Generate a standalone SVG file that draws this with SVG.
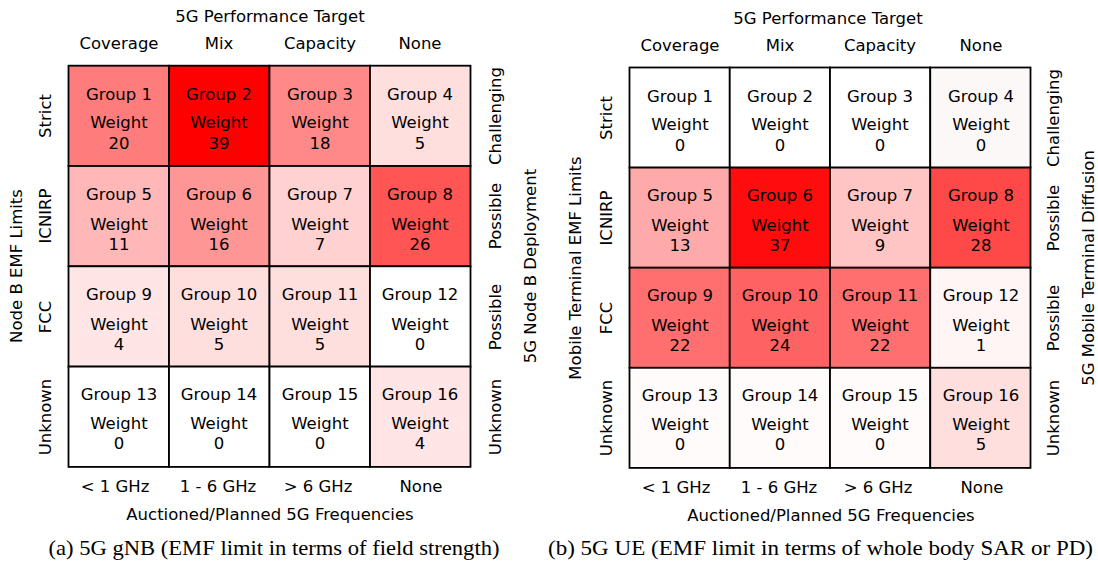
<svg xmlns="http://www.w3.org/2000/svg" width="1098" height="563" viewBox="0 0 1098 563">
<style>
text{font-family:"DejaVu Sans",sans-serif;font-size:16.5px;fill:#000;text-anchor:middle}
.cap{font-family:"Liberation Serif","Times New Roman",serif;font-size:21.5px}
.cell rect{stroke:#000;stroke-width:1.8}
</style>
<rect width="1098" height="563" fill="#fff"/>
<!-- Left chart -->
<g id="chart-a">
<text x="270" y="22">5G Performance Target</text>
<text x="119" y="49">Coverage</text>
<text x="219" y="49">Mix</text>
<text x="320" y="49">Capacity</text>
<text x="420" y="49">None</text>
<text x="115" y="492">&lt; 1 GHz</text>
<text x="218" y="492">1 - 6 GHz</text>
<text x="318" y="492">&gt; 6 GHz</text>
<text x="421" y="492">None</text>
<text x="270" y="520">Auctioned/Planned 5G Frequencies</text>
<text transform="translate(51,116) rotate(-90)">Strict</text>
<text transform="translate(51,216) rotate(-90)">ICNIRP</text>
<text transform="translate(51,317) rotate(-90)">FCC</text>
<text transform="translate(51,417) rotate(-90)">Unknown</text>
<text transform="translate(22,266) rotate(-90)">Node B EMF Limits</text>
<text transform="translate(501,116) rotate(-90)">Challenging</text>
<text transform="translate(501,216) rotate(-90)">Possible</text>
<text transform="translate(501,317) rotate(-90)">Possible</text>
<text transform="translate(501,417) rotate(-90)">Unknown</text>
<text transform="translate(536,266) rotate(-90)">5G Node B Deployment</text>
<text class="cap" x="274" y="555" textLength="451" lengthAdjust="spacingAndGlyphs">(a) 5G gNB (EMF limit in terms of field strength)</text>
</g>
<g id="a-g1" class="cell"><rect x="68.5" y="65.7" width="100.5" height="100.3" fill="#ff7c7c"/><text x="119" y="99.5">Group 1</text><text x="119" y="128">Weight</text><text x="119" y="148.5">20</text></g>
<g id="a-g2" class="cell"><rect x="169" y="65.7" width="100.5" height="100.3" fill="#ff0000"/><text x="219" y="99.5">Group 2</text><text x="219" y="128">Weight</text><text x="219" y="148.5">39</text></g>
<g id="a-g3" class="cell"><rect x="269.5" y="65.7" width="100.5" height="100.3" fill="#ff8989"/><text x="320" y="99.5">Group 3</text><text x="320" y="128">Weight</text><text x="320" y="148.5">18</text></g>
<g id="a-g4" class="cell"><rect x="370" y="65.7" width="100.5" height="100.3" fill="#ffdede"/><text x="420" y="99.5">Group 4</text><text x="420" y="128">Weight</text><text x="420" y="148.5">5</text></g>
<g id="a-g5" class="cell"><rect x="68.5" y="166" width="100.5" height="100.3" fill="#ffb7b7"/><text x="119" y="199.5">Group 5</text><text x="119" y="230">Weight</text><text x="119" y="250">11</text></g>
<g id="a-g6" class="cell"><rect x="169" y="166" width="100.5" height="100.3" fill="#ff9696"/><text x="219" y="199.5">Group 6</text><text x="219" y="230">Weight</text><text x="219" y="250">16</text></g>
<g id="a-g7" class="cell"><rect x="269.5" y="166" width="100.5" height="100.3" fill="#ffd1d1"/><text x="320" y="199.5">Group 7</text><text x="320" y="230">Weight</text><text x="320" y="250">7</text></g>
<g id="a-g8" class="cell"><rect x="370" y="166" width="100.5" height="100.3" fill="#ff5555"/><text x="420" y="199.5">Group 8</text><text x="420" y="230">Weight</text><text x="420" y="250">26</text></g>
<g id="a-g9" class="cell"><rect x="68.5" y="266.3" width="100.5" height="100.3" fill="#ffe5e5"/><text x="119" y="300">Group 9</text><text x="119" y="330">Weight</text><text x="119" y="350">4</text></g>
<g id="a-g10" class="cell"><rect x="169" y="266.3" width="100.5" height="100.3" fill="#ffdede"/><text x="219" y="300">Group 10</text><text x="219" y="330">Weight</text><text x="219" y="350">5</text></g>
<g id="a-g11" class="cell"><rect x="269.5" y="266.3" width="100.5" height="100.3" fill="#ffdede"/><text x="320" y="300">Group 11</text><text x="320" y="330">Weight</text><text x="320" y="350">5</text></g>
<g id="a-g12" class="cell"><rect x="370" y="266.3" width="100.5" height="100.3" fill="#ffffff"/><text x="420" y="300">Group 12</text><text x="420" y="330">Weight</text><text x="420" y="350">0</text></g>
<g id="a-g13" class="cell"><rect x="68.5" y="366.6" width="100.5" height="100.3" fill="#ffffff"/><text x="119" y="400">Group 13</text><text x="119" y="429">Weight</text><text x="119" y="449">0</text></g>
<g id="a-g14" class="cell"><rect x="169" y="366.6" width="100.5" height="100.3" fill="#ffffff"/><text x="219" y="400">Group 14</text><text x="219" y="429">Weight</text><text x="219" y="449">0</text></g>
<g id="a-g15" class="cell"><rect x="269.5" y="366.6" width="100.5" height="100.3" fill="#ffffff"/><text x="320" y="400">Group 15</text><text x="320" y="429">Weight</text><text x="320" y="449">0</text></g>
<g id="a-g16" class="cell"><rect x="370" y="366.6" width="100.5" height="100.3" fill="#ffe5e5"/><text x="420" y="400">Group 16</text><text x="420" y="429">Weight</text><text x="420" y="449">4</text></g>
<!-- Right chart -->
<g id="chart-b">
<text x="828" y="24">5G Performance Target</text>
<text x="680" y="51">Coverage</text>
<text x="780" y="51">Mix</text>
<text x="880" y="51">Capacity</text>
<text x="981" y="51">None</text>
<text x="676" y="493">&lt; 1 GHz</text>
<text x="779" y="493">1 - 6 GHz</text>
<text x="878" y="493">&gt; 6 GHz</text>
<text x="982" y="493">None</text>
<text x="831" y="521">Auctioned/Planned 5G Frequencies</text>
<text transform="translate(612,118) rotate(-90)">Strict</text>
<text transform="translate(612,218) rotate(-90)">ICNIRP</text>
<text transform="translate(612,318) rotate(-90)">FCC</text>
<text transform="translate(612,418) rotate(-90)">Unknown</text>
<text transform="translate(581,268) rotate(-90)">Mobile Terminal EMF Limits</text>
<text transform="translate(1059,118) rotate(-90)">Challenging</text>
<text transform="translate(1059,218) rotate(-90)">Possible</text>
<text transform="translate(1059,318) rotate(-90)">Possible</text>
<text transform="translate(1059,418) rotate(-90)">Unknown</text>
<text transform="translate(1094,268) rotate(-90)">5G Mobile Terminal Diffusion</text>
<text class="cap" x="820.5" y="555" textLength="545" lengthAdjust="spacingAndGlyphs">(b) 5G UE (EMF limit in terms of whole body SAR or PD)</text>
</g>
<g id="b-g1" class="cell"><rect x="629.5" y="67.5" width="100.25" height="100.1" fill="#ffffff"/><text x="680" y="101.5">Group 1</text><text x="680" y="130">Weight</text><text x="680" y="150.5">0</text></g>
<g id="b-g2" class="cell"><rect x="729.75" y="67.5" width="100.25" height="100.1" fill="#ffffff"/><text x="780" y="101.5">Group 2</text><text x="780" y="130">Weight</text><text x="780" y="150.5">0</text></g>
<g id="b-g3" class="cell"><rect x="830" y="67.5" width="100.25" height="100.1" fill="#ffffff"/><text x="880" y="101.5">Group 3</text><text x="880" y="130">Weight</text><text x="880" y="150.5">0</text></g>
<g id="b-g4" class="cell"><rect x="930.25" y="67.5" width="100.25" height="100.1" fill="#fdf8f8"/><text x="981" y="101.5">Group 4</text><text x="981" y="130">Weight</text><text x="981" y="150.5">0</text></g>
<g id="b-g5" class="cell"><rect x="629.5" y="167.6" width="100.25" height="100.1" fill="#ffaaaa"/><text x="680" y="201">Group 5</text><text x="680" y="231">Weight</text><text x="680" y="251">13</text></g>
<g id="b-g6" class="cell"><rect x="729.75" y="167.6" width="100.25" height="100.1" fill="#ff0d0d"/><text x="780" y="201">Group 6</text><text x="780" y="231">Weight</text><text x="780" y="251">37</text></g>
<g id="b-g7" class="cell"><rect x="830" y="167.6" width="100.25" height="100.1" fill="#ffc4c4"/><text x="880" y="201">Group 7</text><text x="880" y="231">Weight</text><text x="880" y="251">9</text></g>
<g id="b-g8" class="cell"><rect x="930.25" y="167.6" width="100.25" height="100.1" fill="#ff4848"/><text x="981" y="201">Group 8</text><text x="981" y="231">Weight</text><text x="981" y="251">28</text></g>
<g id="b-g9" class="cell"><rect x="629.5" y="267.7" width="100.25" height="100.1" fill="#ff6f6f"/><text x="680" y="301">Group 9</text><text x="680" y="331">Weight</text><text x="680" y="351">22</text></g>
<g id="b-g10" class="cell"><rect x="729.75" y="267.7" width="100.25" height="100.1" fill="#ff6262"/><text x="780" y="301">Group 10</text><text x="780" y="331">Weight</text><text x="780" y="351">24</text></g>
<g id="b-g11" class="cell"><rect x="830" y="267.7" width="100.25" height="100.1" fill="#ff6f6f"/><text x="880" y="301">Group 11</text><text x="880" y="331">Weight</text><text x="880" y="351">22</text></g>
<g id="b-g12" class="cell"><rect x="930.25" y="267.7" width="100.25" height="100.1" fill="#fff5f5"/><text x="981" y="301">Group 12</text><text x="981" y="331">Weight</text><text x="981" y="351">1</text></g>
<g id="b-g13" class="cell"><rect x="629.5" y="367.8" width="100.25" height="100.1" fill="#fffbfb"/><text x="680" y="401">Group 13</text><text x="680" y="430">Weight</text><text x="680" y="450">0</text></g>
<g id="b-g14" class="cell"><rect x="729.75" y="367.8" width="100.25" height="100.1" fill="#fffbfb"/><text x="780" y="401">Group 14</text><text x="780" y="430">Weight</text><text x="780" y="450">0</text></g>
<g id="b-g15" class="cell"><rect x="830" y="367.8" width="100.25" height="100.1" fill="#fffbfb"/><text x="880" y="401">Group 15</text><text x="880" y="430">Weight</text><text x="880" y="450">0</text></g>
<g id="b-g16" class="cell"><rect x="930.25" y="367.8" width="100.25" height="100.1" fill="#ffdede"/><text x="981" y="401">Group 16</text><text x="981" y="430">Weight</text><text x="981" y="450">5</text></g>
<g id="connectors"/>
</svg>
